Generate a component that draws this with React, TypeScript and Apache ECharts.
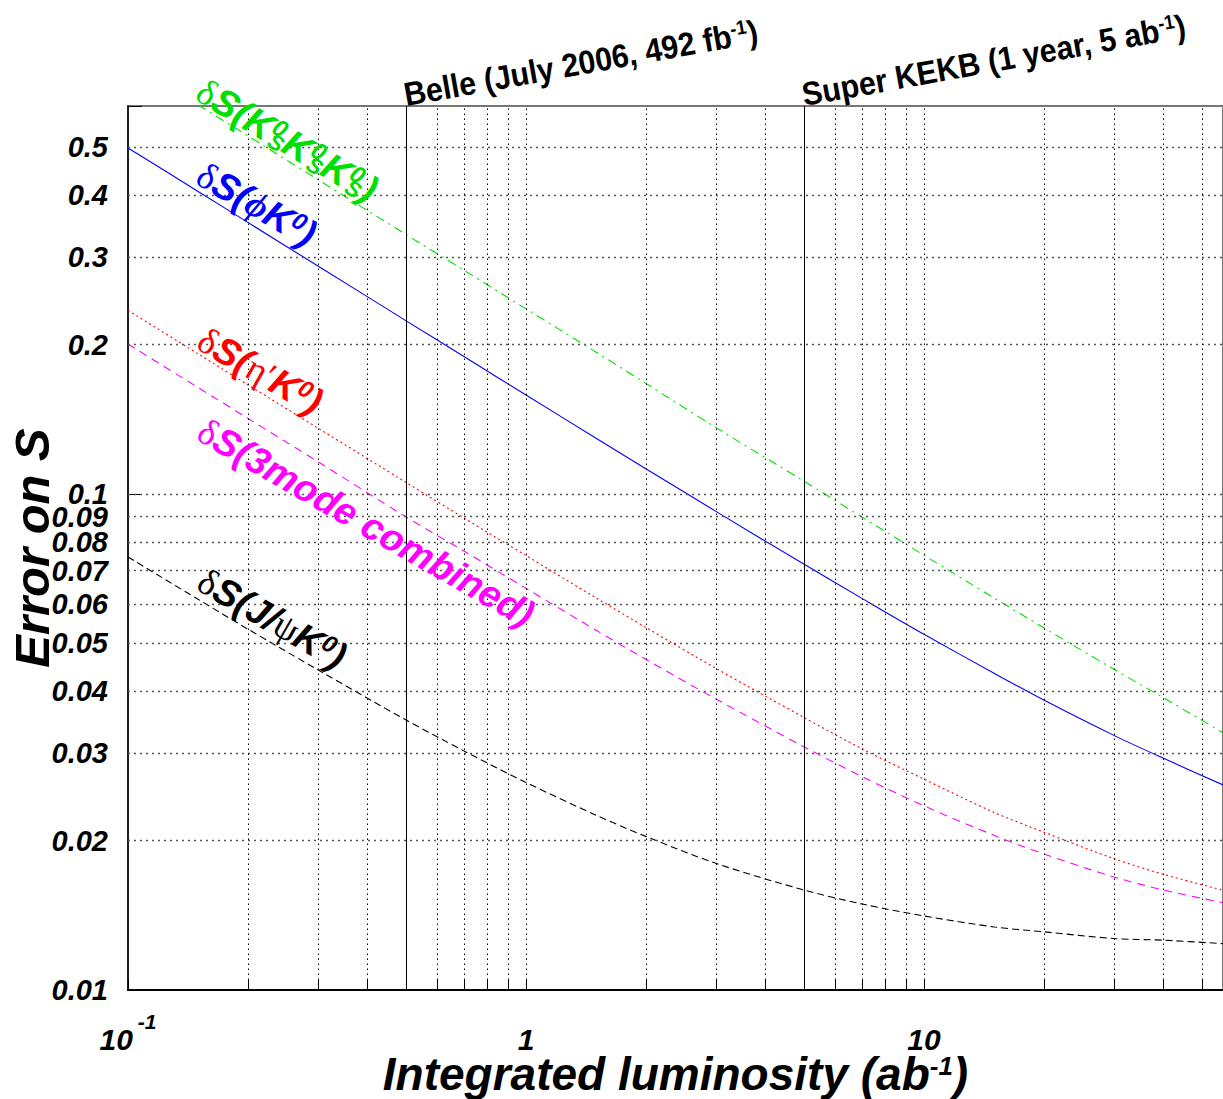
import React, { useEffect, useRef } from 'react';
import * as echarts from 'echarts';

// Integrated luminosity (ab^-1)
const lumi = [0.1, 0.15, 0.2, 0.3, 0.5, 0.7, 1, 1.5, 2, 3, 5, 7, 10, 15, 20, 30, 40, 56.4];
// Error on S
const errKsKsKs = [null, 0.608, 0.527, 0.43, 0.333, 0.282, 0.236, 0.193, 0.167, 0.136, 0.106, 0.0897, 0.0752, 0.0617, 0.0537, 0.0443, 0.0388, 0.033];
const errPhiK = [0.498, 0.407, 0.3525, 0.288, 0.2232, 0.1889, 0.1582, 0.1295, 0.1124, 0.0922, 0.0721, 0.0615, 0.0521, 0.0435, 0.0384, 0.0326, 0.0293, 0.0259];
const errEtapK = [0.2343, 0.1915, 0.1659, 0.1357, 0.1054, 0.0893, 0.0751, 0.0617, 0.0538, 0.0445, 0.0354, 0.0306, 0.0266, 0.0228, 0.0208, 0.0184, 0.0171, 0.0159];
const err3Mode = [0.2004, 0.1638, 0.142, 0.1161, 0.0898, 0.0766, 0.0645, 0.0531, 0.0464, 0.0386, 0.0309, 0.0269, 0.0235, 0.0205, 0.0188, 0.0169, 0.0159, 0.015];
const errJpsiK = [0.0746, 0.0613, 0.0534, 0.0442, 0.035, 0.0303, 0.0262, 0.0225, 0.0204, 0.018, 0.0159, 0.0149, 0.0141, 0.0134, 0.0131, 0.0127, 0.0126, 0.0124];

const yGrid = [0.5, 0.4, 0.3, 0.2, 0.1, 0.09, 0.08, 0.07, 0.06, 0.05, 0.04, 0.03, 0.02];
const yLabelOnly = [0.01];
const xGrid = [0.2, 0.3, 0.4, 0.6, 0.7, 0.8, 0.9, 1, 2, 3, 4, 6, 7, 8, 9, 10, 20, 30, 40, 50];
const markers = [0.5, 5];
const markerTexts = ['Belle (July 2006, 492 fb', 'Super KEKB (1 year, 5 ab'];

const SANS = '"Liberation Sans", Arial, sans-serif';
const SERIF = '"Liberation Serif", "DejaVu Serif", serif';

function pairs(ys: (number | null)[]) {
  return lumi.map((x, i) => [x, ys[i]]).filter((p) => p[1] != null);
}

function richFor(color: string) {
  const base = { fill: color, color };
  return {
    d: { ...base, fontFamily: SERIF, fontSize: 37 },
    g: { ...base, fontFamily: SERIF, fontSize: 37 },
    gb: { ...base, fontFamily: SERIF, fontSize: 37, fontWeight: 'bold', fontStyle: 'italic' },
    s: { ...base, fontFamily: SANS, fontSize: 38, fontWeight: 'bold', fontStyle: 'italic' },
    sup: { ...base, fontFamily: SANS, fontSize: 24, fontWeight: 'bold', fontStyle: 'italic', verticalAlign: 'top' },
    sups: { ...base, fontFamily: SANS, fontSize: 24, fontWeight: 'bold', fontStyle: 'italic', verticalAlign: 'top', width: 3 },
    sub: { ...base, fontFamily: SANS, fontSize: 22, fontWeight: 'bold', fontStyle: 'italic', verticalAlign: 'bottom' },
  };
}

export default function App() {
  const ref = useRef<HTMLDivElement>(null);
  useEffect(() => {
    const chart = echarts.init(ref.current!, null, { renderer: 'svg' });
    const tickFont = { fontFamily: SANS, fontWeight: 'bold', fontStyle: 'italic', fontSize: 29, color: '#000' };

    const markLineData: any[] = [];
    yGrid.forEach((v) =>
      markLineData.push({
        yAxis: v,
        lineStyle: { color: '#555', type: [2, 4], width: 1.3 },
        label: { show: true, position: 'start', distance: 20, formatter: String(v), ...tickFont },
      })
    );
    yLabelOnly.forEach((v) =>
      markLineData.push({
        yAxis: v,
        lineStyle: { color: 'rgba(0,0,0,0)', width: 0 },
        label: { show: true, position: 'start', distance: 20, formatter: String(v), ...tickFont },
      })
    );
    xGrid.forEach((v) =>
      markLineData.push({
        xAxis: v,
        lineStyle: { color: '#000', type: [1.5, 3.5], width: 1 },
        label: { show: false },
      })
    );
    markers.forEach((v) =>
      markLineData.push({
        xAxis: v,
        lineStyle: { color: '#000', type: 'solid', width: 1 },
        label: { show: false },
      })
    );
    // short solid ticks at the foot of each vertical grid line
    xGrid.forEach((v) =>
      markLineData.push([
        { coord: [v, 0.01], lineStyle: { color: '#000', type: 'solid', width: 1 }, label: { show: false } },
        { coord: [v, 0.0105] },
      ])
    );

    const curve = (name: string, ys: (number | null)[], color: string, type: any) => ({
      name,
      type: 'line',
      data: pairs(ys),
      showSymbol: false,
      symbol: 'none',
      smooth: 0.3,
      z: 3,
      lineStyle: { color, width: 1.1, type },
      silent: true,
    });

    chart.setOption({
      animation: false,
      backgroundColor: '#fff',
      grid: {
        left: 128,
        top: 106,
        right: 0,
        bottom: 109,
        show: true,
        borderColor: '#777',
        borderWidth: 2,
        containLabel: false,
        outerBoundsMode: 'none',
      },
      xAxis: {
        type: 'log',
        logBase: 10,
        min: 0.1,
        max: 56.4,
        axisLine: { show: true, lineStyle: { color: '#000', width: 2 } },
        axisTick: { show: true, inside: true, length: 10, lineStyle: { color: '#000', width: 1 } },
        splitLine: { show: false },
        minorTick: { show: false },
        axisLabel: {
          showMaxLabel: false,
          margin: 64,
          verticalAlign: 'bottom',
          formatter: (v: number) => {
            const e = Math.log10(v);
            const r = Math.round(e);
            if (Math.abs(e - r) > 0.01) return '';
            if (r === -1) return '{b|10}{s|-1}';
            if (r === 0) return '{b|1}';
            if (r === 1) return '{b|10}';
            return '';
          },
          rich: {
            b: { ...tickFont, fontSize: 30, verticalAlign: 'bottom' },
            s: { ...tickFont, fontSize: 21, verticalAlign: 'top', padding: [0, 0, 22, 5] },
          },
        },
        name: '{b|Integrated luminosity (ab}{s|-1}{b|)}',
        nameLocation: 'middle',
        nameGap: 63,
        nameMoveOverlap: false,
        nameTextStyle: {
          rich: {
            b: { fontFamily: SANS, fontWeight: 'bold', fontStyle: 'italic', fontSize: 46, lineHeight: 44, color: '#000', verticalAlign: 'bottom' },
            s: { fontFamily: SANS, fontWeight: 'bold', fontStyle: 'italic', fontSize: 26, lineHeight: 26, color: '#000', verticalAlign: 'top' },
          },
        },
      },
      yAxis: {
        type: 'log',
        logBase: 10,
        min: 0.01,
        max: 0.605,
        axisLine: { show: true, lineStyle: { color: '#000', width: 1.5 } },
        axisTick: { show: true, inside: true, length: 14, lineStyle: { color: '#000', width: 1 } },
        splitLine: { show: false },
        axisLabel: { show: false },
        name: 'Error on S',
        nameLocation: 'middle',
        nameGap: 72,
        nameRotate: 90,
        nameMoveOverlap: false,
        nameTextStyle: { fontFamily: SANS, fontWeight: 'bold', fontStyle: 'italic', fontSize: 49, color: '#000' },
      },
      series: [
        {
          name: 'grid',
          type: 'line',
          data: [],
          z: 1,
          silent: true,
          markLine: { silent: true, symbol: ['none', 'none'], animation: false, data: markLineData },
        },
        curve('KsKsKs', errKsKsKs, '#00e000', [9, 5, 2, 5]),
        curve('phiK', errPhiK, '#0000ff', 'solid'),
        curve('etapK', errEtapK, '#ff0000', [2, 3]),
        curve('3mode', err3Mode, '#ff00ff', [8, 6]),
        curve('JpsiK', errJpsiK, '#000000', [7, 4]),
      ],
    });

    const topRich = {
      t: { fontFamily: SANS, fontWeight: 'bold', fontSize: 33, fill: '#000', color: '#000', verticalAlign: 'bottom' },
      sup: { fontFamily: SANS, fontWeight: 'bold', fontSize: 20, fill: '#000', color: '#000', verticalAlign: 'top' },
    };
    const graphics: any[] = markers.map((m, i) => {
      const px = chart.convertToPixel({ xAxisIndex: 0 }, m) as number;
      return {
        type: 'text',
        x: px + 1,
        y: 111,
        rotation: 0.178,
        scaleX: 0.92,
        z: 10,
        style: {
          text: `{t|${markerTexts[i]}}{sup|-1}{t|)}`,
          align: 'left',
          verticalAlign: 'bottom',
          rich: topRich,
        },
      };
    });

    const lbl = (x: number, y: number, color: string, text: string, rot = -0.52) => ({
      type: 'text',
      x,
      y,
      rotation: rot,
      z: 10,
      style: { text, fill: color, align: 'left', verticalAlign: 'middle', rich: richFor(color) },
    });
    graphics.push(lbl(200, 88, '#00e000', '{d|δ}{s|S(K}{sups|0}{sub|S}{s|K}{sups|0}{sub|S}{s|K}{sups|0}{sub|S}{s|)}', -0.54));
    graphics.push(lbl(200, 172, '#0000ff', '{d|δ}{s|S(}{gb|ϕ}{s|K}{sup|0}{s|)}'));
    graphics.push(lbl(201, 337, '#ff0000', '{d|δ}{s|S(}{g|η′}{s|K}{sup|0}{s|)}'));
    graphics.push(lbl(201, 428, '#ff00ff', '{d|δ}{s|S(3mode combined)}'));
    graphics.push(lbl(201, 578, '#000000', '{d|δ}{s|S(J/}{g|ψ}{s|K}{sup|0}{s|)}'));

    chart.setOption({ graphic: graphics });
    return () => chart.dispose();
  }, []);
  return (
    <div
      ref={ref}
      style={{ position: 'absolute', left: 0, top: 0, width: 1223, height: 1099, background: '#fff' }}
    />
  );
}
